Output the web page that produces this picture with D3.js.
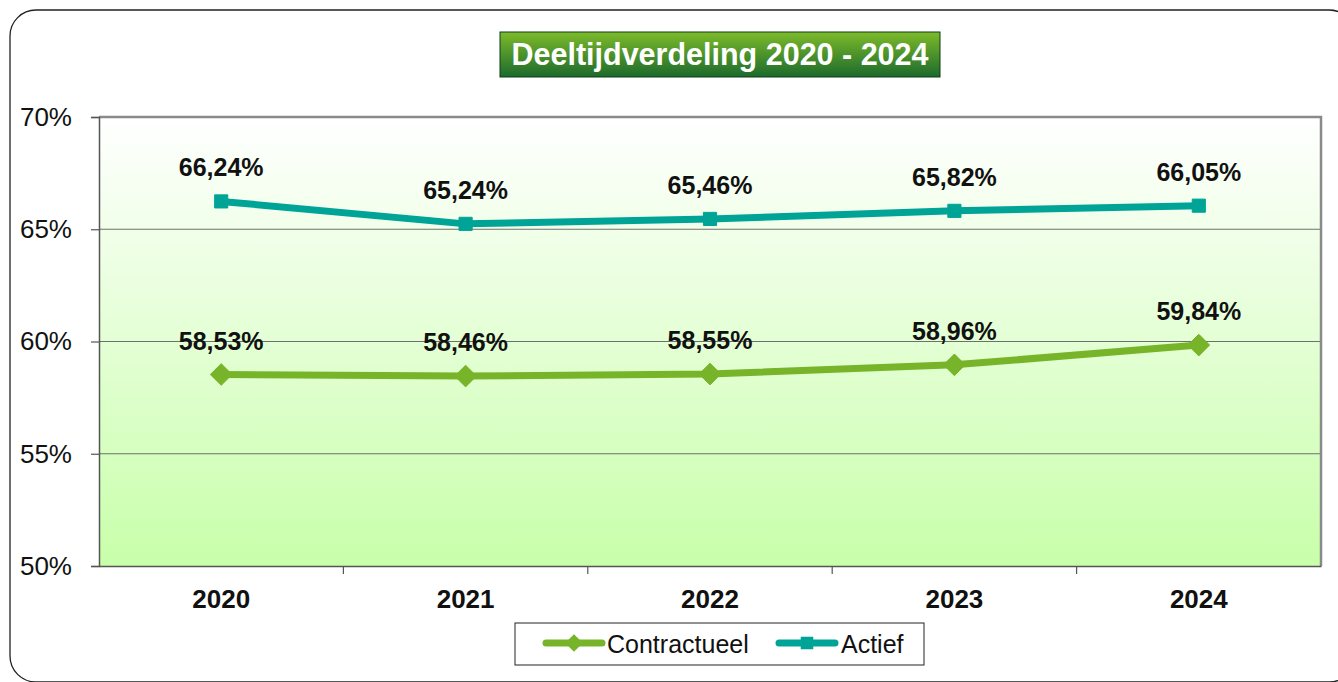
<!DOCTYPE html>
<html>
<head>
<meta charset="utf-8">
<script src="https://cdn.jsdelivr.net/npm/d3@7"></script>
<style>
  body { margin: 0; background: #fff; }
  text { font-family: "Liberation Sans", Arial, sans-serif; }
</style>
</head>
<body>
<div class="canvas"></div>
<script>
var years = ["2020", "2021", "2022", "2023", "2024"];
var contractueel = [58.53, 58.46, 58.55, 58.96, 59.84];
var actief = [66.24, 65.24, 65.46, 65.82, 66.05];
var yTicks = [50, 55, 60, 65, 70];

var svg = d3.select(".canvas")
  .append("svg")
  .attr("width", 1338)
  .attr("height", 682);

var defs = svg.append("defs");

var bg = defs.append("linearGradient")
  .attr("id", "plotBg")
  .attr("x1", 0).attr("y1", 0).attr("x2", 0).attr("y2", 1);
bg.append("stop").attr("offset", "0%").attr("stop-color", "#ffffff");
bg.append("stop").attr("offset", "100%").attr("stop-color", "#c8ffaa");

var tg = defs.append("linearGradient")
  .attr("id", "titleBg")
  .attr("x1", 0).attr("y1", 0).attr("x2", 0).attr("y2", 1);
tg.append("stop").attr("offset", "0%").attr("stop-color", "#7dbb2a");
tg.append("stop").attr("offset", "100%").attr("stop-color", "#1c6a2c");

// outer frame
svg.append("rect")
  .attr("x", 10).attr("y", 10)
  .attr("width", 1345).attr("height", 672)
  .attr("rx", 26)
  .attr("fill", "none")
  .attr("stroke", "#222")
  .attr("stroke-width", 1.3);

var plotLeft = 99, plotRight = 1321, plotTop = 117, plotBottom = 566;

var x = d3.scaleBand().domain(years).range([plotLeft, plotRight]);
var y = d3.scaleLinear().domain([50, 70]).range([plotBottom, plotTop]);

// plot area
svg.append("rect")
  .attr("x", plotLeft).attr("y", plotTop)
  .attr("width", plotRight - plotLeft).attr("height", plotBottom - plotTop)
  .attr("fill", "url(#plotBg)");

// gridlines
svg.append("g")
  .selectAll("line")
  .data(yTicks.filter(function(d){ return d > 50 && d < 70; }))
  .join("line")
  .attr("x1", plotLeft).attr("x2", plotRight)
  .attr("y1", function(d){ return y(d); })
  .attr("y2", function(d){ return y(d); })
  .attr("stroke", "#6f6f6f")
  .attr("stroke-width", 1.2);

// top and right border
svg.append("path")
  .attr("d", "M" + plotLeft + "," + plotTop + "H" + plotRight + "V" + plotBottom)
  .attr("fill", "none")
  .attr("stroke", "#8a8a8a")
  .attr("stroke-width", 2.5);

// y axis
var yAxis = svg.append("g")
  .attr("transform", "translate(" + plotLeft + ",0)")
  .call(d3.axisLeft(y).tickValues(yTicks).tickSize(8).tickPadding(19)
    .tickFormat(function(d){ return d + "%"; }));
yAxis.select(".domain").attr("stroke", "#555").attr("stroke-width", 1.5);
yAxis.selectAll(".tick line").attr("stroke", "#555").attr("stroke-width", 1.2);
yAxis.selectAll(".tick text")
  .attr("font-size", 26)
  .attr("fill", "#111")
  .style("font-family", "'Liberation Sans', Arial, sans-serif");

// x axis
var xAxis = svg.append("g")
  .attr("transform", "translate(0," + plotBottom + ")")
  .call(d3.axisBottom(x).tickSize(0).tickPadding(24));
xAxis.select(".domain").attr("stroke", "#555").attr("stroke-width", 1.5);
xAxis.selectAll(".tick text")
  .attr("font-size", 26)
  .attr("font-weight", "bold")
  .attr("fill", "#111")
  .style("font-family", "'Liberation Sans', Arial, sans-serif");

// category separator ticks
svg.append("g")
  .selectAll("line")
  .data(years.slice(1))
  .join("line")
  .attr("x1", function(d){ return x(d); })
  .attr("x2", function(d){ return x(d); })
  .attr("y1", plotBottom).attr("y2", plotBottom + 8)
  .attr("stroke", "#555")
  .attr("stroke-width", 1.2);

var cx = function(d, i){ return x(years[i]) + x.bandwidth() / 2; };

var series = [
  { name: "Contractueel", values: contractueel, color: "#78b42a", marker: "diamond" },
  { name: "Actief", values: actief, color: "#00a496", marker: "square" }
];

var line = d3.line()
  .x(cx)
  .y(function(d){ return y(d); });

series.forEach(function(s){
  svg.append("path")
    .datum(s.values)
    .attr("d", line)
    .attr("fill", "none")
    .attr("stroke", s.color)
    .attr("stroke-width", 7)
    .attr("stroke-linejoin", "round");

  var sym = s.marker === "diamond"
    ? d3.symbol().type(d3.symbolDiamond2).size(300)
    : d3.symbol().type(d3.symbolSquare2).size(220);

  svg.append("g")
    .selectAll("path")
    .data(s.values)
    .join("path")
    .attr("transform", function(d, i){ return "translate(" + cx(d, i) + "," + y(d) + ")"; })
    .attr("d", sym)
    .attr("fill", s.color)
    .attr("stroke", s.color)
    .attr("stroke-width", 1);

  svg.append("g")
    .selectAll("text")
    .data(s.values)
    .join("text")
    .attr("x", cx)
    .attr("y", function(d){ return y(d) - 25; })
    .attr("text-anchor", "middle")
    .attr("font-size", 25)
    .attr("font-weight", "bold")
    .attr("fill", "#111")
    .text(function(d){ return d.toFixed(2).replace(".", ",") + "%"; });
});

// title
svg.append("rect")
  .attr("x", 500).attr("y", 32)
  .attr("width", 440).attr("height", 45)
  .attr("fill", "url(#titleBg)")
  .attr("stroke", "#0e3d18")
  .attr("stroke-width", 1);

svg.append("text")
  .attr("x", 720).attr("y", 65)
  .attr("text-anchor", "middle")
  .attr("font-size", 30.5)
  .attr("font-weight", "bold")
  .attr("fill", "#fff")
  .text("Deeltijdverdeling 2020 - 2024");

// legend
var legend = svg.append("g");
legend.append("rect")
  .attr("x", 515).attr("y", 623)
  .attr("width", 409).attr("height", 42)
  .attr("fill", "#fff")
  .attr("stroke", "#222")
  .attr("stroke-width", 1);

var legendItems = [
  { s: series[0], x: 546, tx: 607 },
  { s: series[1], x: 779, tx: 841 }
];
legendItems.forEach(function(it){
  legend.append("line")
    .attr("x1", it.x).attr("x2", it.x + 56)
    .attr("y1", 643).attr("y2", 643)
    .attr("stroke", it.s.color)
    .attr("stroke-width", 7)
    .attr("stroke-linecap", "round");
  legend.append("path")
    .attr("transform", "translate(" + (it.x + 28) + ",643)")
    .attr("d", it.s.marker === "diamond"
      ? d3.symbol().type(d3.symbolDiamond2).size(200)()
      : d3.symbol().type(d3.symbolSquare2).size(200)())
    .attr("fill", it.s.color);
  legend.append("text")
    .attr("x", it.tx).attr("y", 653)
    .attr("font-size", 25)
    .attr("fill", "#111")
    .text(it.s.name);
});
</script>
</body>
</html>
